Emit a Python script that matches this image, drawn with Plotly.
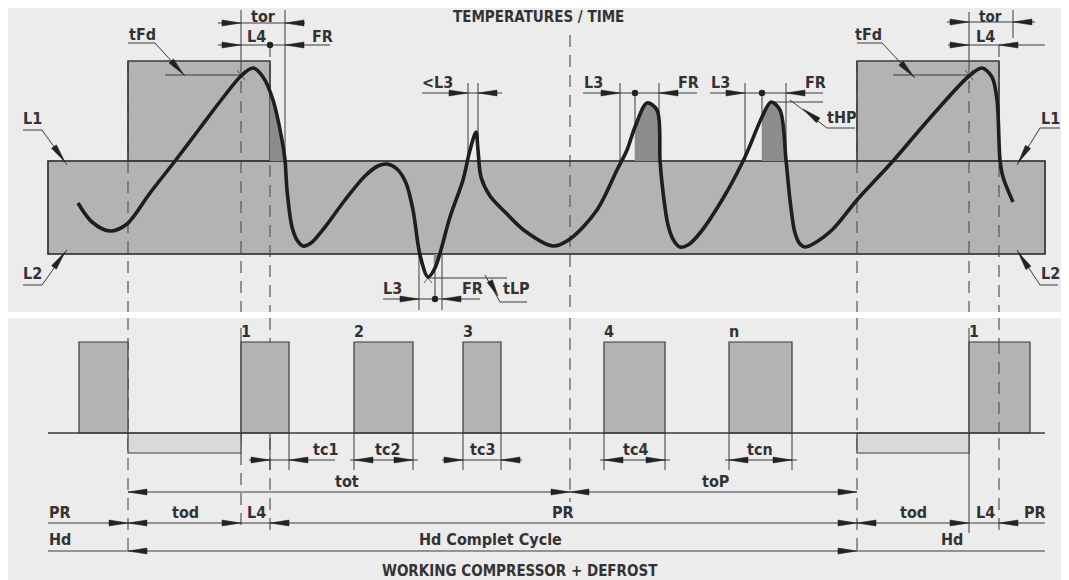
import math
import plotly.graph_objects as go

W, H = 1069, 580
OFF = 8  # default body margin of the written page
INK = '#333333'
LN = '#3a3a3a'
BAND = '#b3b3b3'
DARK = '#8c8c8c'
LIGHT = '#d9d9d9'
BG = '#ececec'
FONT = 'DejaVu Sans Condensed, Liberation Sans Narrow, Roboto, sans-serif'

# ---- temperature curve (key points, pixel units) ----
curve_x = [78, 92, 110, 127, 150, 175, 200, 222, 241, 253, 263, 273, 282, 285, 287, 292, 297, 303, 311,
           325, 345, 365, 378, 387, 397, 406, 413, 420, 428, 435, 450, 463, 470, 476, 478, 481, 490,
           505, 525, 553, 570, 597, 617, 627, 635, 647, 657, 660, 662, 668, 674, 680, 688,
           700, 725, 745, 762, 771, 780, 786, 790, 795, 800, 805, 813, 833, 857, 893, 930, 969,
           982, 992, 997, 1000, 1003, 1013]
curve_y = [203, 222, 231, 224, 193, 161, 128, 99, 76, 68, 77, 100, 140, 160, 190, 227, 240, 246, 243,
           227, 200, 176, 166, 164, 169, 183, 210, 255, 277, 268, 217, 180, 150, 132, 150, 177, 196,
           212, 231, 246, 239, 210, 170, 150, 127, 103, 110, 160, 183, 225, 241, 247, 245,
           233, 195, 157, 117, 102, 110, 160, 200, 233, 244, 247, 244, 229, 200, 161, 118, 76,
           68, 77, 100, 160, 177, 202]

# ---- shaded (dark) zones under the curve ----
shade_x = [[270, 270, 273, 278, 282, 285],
           [635, 635, 641, 647, 653, 657, 659, 660],
           [762, 762, 767, 771, 776, 780, 784, 786],
           [434, 434, 437, 441]]
shade_y = [[161, 93, 100, 120, 140, 161],
           [161, 127, 110, 103, 106, 112, 140, 161],
           [161, 117, 106, 102, 105, 110, 135, 161],
           [254, 270, 264, 254]]

# ---- band and defrost boxes (top panel) ----
band_x = [48, 1045]
band_y = [161, 254]
defrost_top_x0 = [128, 857]
defrost_top_x1 = [270, 999]
defrost_top_y = 61

# ---- compressor bars (bottom panel) ----
comp_x0 = [79, 241, 354, 463, 604, 729, 969]
comp_x1 = [128, 289, 413, 501, 665, 792, 1030]
comp_labels = ['', '1', '2', '3', '4', 'n', '1']
comp_top = 342
baseline = 433
defrost_x0 = [128, 857]
defrost_x1 = [241, 969]
defrost_bottom = 453

# ---- tc dimensions ----
tc_labels = ['tc1', 'tc2', 'tc3', 'tc4', 'tcn']
tc_a = [270, 354, 463, 604, 729]
tc_b = [289, 413, 501, 665, 792]
tc_inside = [False, True, False, True, True]
tc_text_x = [325, 387, 482, 635, 760]

shapes = []
annots = []


def rect(x0, y0, x1, y1, fill, line=LN, w=1.2):
    shapes.append(dict(type='rect', x0=x0, x1=x1, y0=y0, y1=y1, fillcolor=fill,
                       line=dict(color=line, width=w), layer='below'))


def seg(x0, y0, x1, y1, w=1.0, color=LN, dash=None):
    d = dict(color=color, width=w)
    if dash:
        d['dash'] = dash
    shapes.append(dict(type='line', x0=x0, x1=x1, y0=y0, y1=y1, line=d, layer='below'))


def vdash(x, y0, y1):
    seg(x, y0, x, y1, w=1.2, color='#555555', dash='12px,8px')


def arrow(tx, ty, dx, dy, L=19, h=3.0):
    n = math.hypot(dx, dy)
    ux, uy = dx / n, dy / n
    bx, by = tx - L * ux, ty - L * uy
    px, py = -uy, ux
    p = f'M {tx},{ty} L {bx + h*px},{by + h*py} L {bx - h*px},{by - h*py} Z'
    shapes.append(dict(type='path', path=p, fillcolor='#222222',
                       line=dict(color='#222222', width=0.5), layer='below'))


def dot(x, y, r=3.2):
    shapes.append(dict(type='circle', x0=x - r, x1=x + r, y0=y - r, y1=y + r,
                       fillcolor='#222222', line=dict(color='#222222', width=0), layer='below'))


def text(x, y, s, size=16):
    annots.append(dict(x=x, y=y, text=s, showarrow=False, xanchor='center', yanchor='middle',
                       font=dict(family=FONT, size=size, color=INK, weight=700)))


# panel backgrounds
rect(3, 0, 1066, 312, BG, line=BG, w=0)
rect(3, 318, 1066, 580, BG, line=BG, w=0)

# defrost boxes and band
for a, b in zip(defrost_top_x0, defrost_top_x1):
    rect(a, defrost_top_y, b, band_y[0], BAND)
rect(band_x[0], band_y[0], band_x[1], band_y[1], BAND)

# dashed verticals
vdash(128, 61, 312); vdash(128, 318, 555)
vdash(857, 61, 312); vdash(857, 318, 555)
vdash(241, 61, 312); vdash(241, 433, 533)
vdash(969, 61, 312)
vdash(270, 45, 312); vdash(270, 318, 533)
vdash(999, 45, 312); vdash(999, 318, 533)
vdash(570, 35, 312); vdash(570, 318, 502)
# solid verticals
seg(241, 10, 241, 61); seg(241, 328, 241, 433)
seg(969, 12, 969, 61); seg(969, 328, 969, 533)
seg(285, 10, 285, 161)
seg(1013, 10, 1013, 38)
for x in (468, 478, 620, 659, 745, 786):
    seg(x, 83, x, 161)
seg(635, 93, 635, 127); seg(762, 93, 762, 117)
for x in (419, 442):
    seg(x, 254, x, 310)
seg(435, 270, 435, 299)

# redraw box edges on top of dashes
for a, b in zip(defrost_top_x0, defrost_top_x1):
    shapes.append(dict(type='rect', x0=a, x1=b, y0=defrost_top_y, y1=band_y[0],
                       line=dict(color=LN, width=1.2), layer='below'))
shapes.append(dict(type='rect', x0=band_x[0], x1=band_x[1], y0=band_y[0], y1=band_y[1],
                   line=dict(color=LN, width=1.5), layer='below'))

# top dimensions
seg(218, 23, 305, 23); arrow(241, 23, 1, 0); arrow(285, 23, -1, 0); text(263, 16, 'tor')
seg(218, 45, 330, 45); arrow(241, 45, 1, 0); arrow(285, 45, -1, 0); dot(270, 45)
text(256, 36, 'L4'); text(322, 36, 'FR')
seg(947, 22, 1035, 22); arrow(969, 22, 1, 0); arrow(1013, 22, -1, 0); text(990, 16.5, 'tor', size=15)
seg(948, 45, 1045, 45); arrow(969, 45, 1, 0); arrow(999, 45, -1, 0); text(985, 36, 'L4')
seg(422, 93, 502, 93); arrow(468, 93, 1, 0); arrow(478, 93, -1, 0); text(437, 82, '&lt;L3')
seg(583, 93, 697, 93); arrow(620, 93, 1, 0); arrow(659, 93, -1, 0); dot(635, 93)
text(593, 82, 'L3'); text(688, 82, 'FR')
seg(710, 93, 823, 93); arrow(745, 93, 1, 0); arrow(786, 93, -1, 0); dot(762, 93)
text(720, 82, 'L3'); text(815, 82, 'FR')
seg(383, 299, 480, 299); arrow(419, 299, 1, 0); arrow(442, 299, -1, 0); dot(435, 299)
text(392, 288, 'L3'); text(472, 288, 'FR')

# leaders
seg(128, 43, 155, 43); seg(155, 43, 185, 76); arrow(184, 75, 30, 33); seg(165, 75, 241, 75)
text(142, 34, 'tFd')
seg(857, 43, 882, 43); seg(882, 43, 915, 78); arrow(914, 77, 33, 35); seg(893, 75, 969, 75)
text(868, 34, 'tFd')
seg(772, 102, 823, 102); seg(790, 100, 827, 128); seg(827, 128, 855, 128)
arrow(803, 109, -1, -0.75); text(841, 117, 'tHP')
seg(428, 278, 507, 278); seg(485, 275, 500, 302); seg(500, 302, 527, 302)
arrow(498, 296, 15, 27, L=17); text(516, 288, 'tLP')
seg(23, 130, 42, 130); seg(42, 130, 67, 165); arrow(65, 162, 25, 35); text(32, 118, 'L1')
seg(23, 285, 42, 285); seg(42, 285, 67, 250); arrow(65, 252, 25, -35); text(32, 273, 'L2')
seg(1040, 128, 1060, 128); seg(1040, 128, 1017, 165); arrow(1018, 163, -23, 37); text(1050, 118, 'L1')
seg(1040, 285, 1058, 285); seg(1040, 285, 1017, 250); arrow(1018, 252, -23, -35); text(1050, 273, 'L2')

# small X marks at the crossing points
for (cx, cy) in [(241, 75), (969, 75), (428, 278)]:
    seg(cx - 4, cy - 5, cx + 4, cy + 5, w=0.8); seg(cx - 4, cy + 5, cx + 4, cy - 5, w=0.8)

text(538, 17, 'TEMPERATURES / TIME', size=15)

# ---- bottom panel ----
for a, b, lab in zip(comp_x0, comp_x1, comp_labels):
    rect(a, comp_top, b, baseline, BAND)
    if lab:
        text(a + 5, 331, lab)
for a, b in zip(defrost_x0, defrost_x1):
    rect(a, baseline, b, defrost_bottom, LIGHT)
seg(48, baseline, 1045, baseline, w=1.5)
vdash(999, 342, 433)

for lab, a, b, ins, tx in zip(tc_labels, tc_a, tc_b, tc_inside, tc_text_x):
    seg(a, baseline, a, 470); seg(b, baseline, b, 470)
    if ins:
        seg(a - 4, 460, b + 5, 460)
        arrow(a, 460, -1, 0); arrow(b, 460, 1, 0)
    else:
        seg(a - 21, 460, max(b + 21, tx + 10), 460)
        arrow(a, 460, 1, 0); arrow(b, 460, -1, 0)
    text(tx, 449, lab)

seg(128, 492, 857, 492)
arrow(128, 492, -1, 0); arrow(570, 492, 1, 0); arrow(570, 492, -1, 0); arrow(857, 492, 1, 0)
text(347, 481, 'tot'); text(715, 481, 'toP'); text(563, 512, 'PR')

seg(48, 523, 1045, 523)
for tx, d in [(128, 1), (128, -1), (241, 1), (270, -1), (857, 1), (857, -1), (969, 1), (999, -1)]:
    arrow(tx, 523, d, 0)
text(60, 512, 'PR'); text(185, 512, 'tod'); text(256, 512, 'L4')
text(913, 512, 'tod'); text(985, 512, 'L4'); text(1035, 512, 'PR')

seg(48, 551, 1045, 551)
arrow(128, 551, -1, 0); arrow(857, 551, 1, 0)
text(60, 539, 'Hd'); text(490, 539, 'Hd Complet Cycle'); text(952, 539, 'Hd')
text(520, 571, 'WORKING COMPRESSOR + DEFROST', size=15)

fig = go.Figure()
for xs, ys in zip(shade_x, shade_y):
    fig.add_trace(go.Scatter(x=xs, y=ys, mode='lines', fill='toself', fillcolor=DARK,
                             line=dict(color=DARK, width=0.5), hoverinfo='skip', showlegend=False))
fig.add_trace(go.Scatter(x=curve_x, y=curve_y, mode='lines',
                         line=dict(color='#1e1e1e', width=3.6, shape='spline', smoothing=0.9),
                         hoverinfo='skip', showlegend=False))

fig.update_layout(width=W - OFF, height=H - OFF, margin=dict(l=0, r=0, t=0, b=0),
                  paper_bgcolor='white', plot_bgcolor='white',
                  xaxis=dict(range=[OFF, W], visible=False, fixedrange=True),
                  yaxis=dict(range=[H, OFF], visible=False, fixedrange=True),
                  shapes=shapes, annotations=annots, showlegend=False)
fig.write_html('out.html')
